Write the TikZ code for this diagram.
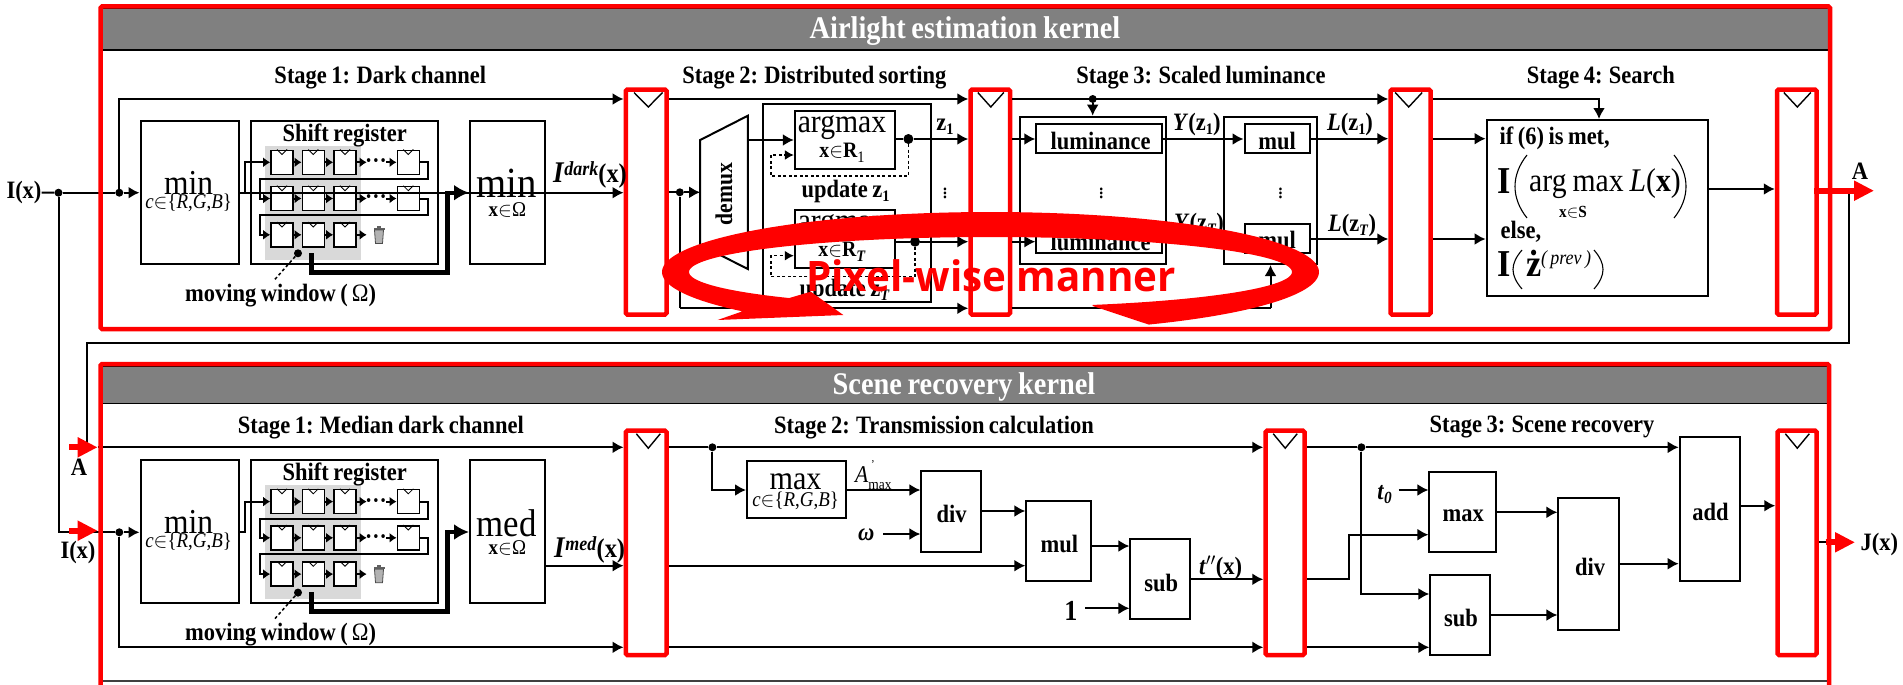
\documentclass[tikz,border=0pt]{standalone}
\usepackage{fontspec}
\setmainfont[FakeStretch=0.9,WordSpace=0.8]{Liberation Serif}
\newfontfamily\pixfont[FakeStretch=0.96]{Open Sans}
\usetikzlibrary{arrows.meta,calc}
\newcommand\fs[1]{\fontsize{#1}{#1}\selectfont}
\newcommand\lowt[2][-4pt]{\raisebox{#1}{\fs{16}#2}}
\newcommand\BOX[6][]{%
 \pgfmathsetmacro\bxw{#5-#3}\pgfmathsetmacro\bxh{#6-#4}%
 \pgfmathsetmacro\bxx{(#3+#5)/2}\pgfmathsetmacro\bxy{(#4+#6)/2}%
 \node[blockbox,#1,minimum width=\bxw pt,minimum height=\bxh pt] (#2) at (\bxx,\bxy) {};}
\newcommand\REG[7]{\BOX[regbox]{#1}{#2}{#3}{#4}{#5}%
 \draw[veeline] ({#6-#7},{#3+3}) -- (#6,{#3+17.5}) -- ({#6+#7},{#3+3});}
\newcommand\HW[3]{\draw[wire] (#1 |- 0,#3) -- (#2 |- 0,#3);}
\newcommand\CSET{\textit{c}$\in$\{\textit{R},\textit{G},\textit{B}\}}
\newcommand\SHIFTBLOCK[2]{%
\begin{scope}[shift={(0,#2)}]
 \BOX{#1a}{140.5}{120.7}{239.4}{264}
 \BOX{#1b}{250.6}{120.7}{438}{264}
 \BOX[grayarea]{#1g}{265}{146}{360.8}{260}
 \BOX{#1m}{470}{120.7}{544.7}{264}
 \node[lab] (#1ta) at (344.7,134) {Shift register};
 \node[reg,font=\fs{35}] (#1tb) at (188.6,182.7) {min};
 \node[reg,font=\fs{21}] (#1tc) at (188.6,203) {\CSET};
 \node[lab] (#1td) at (280.6,294) {moving window (\,\textmd{Ω})};
 \foreach \r/\ry in {1/162.3,2/198.5,3/234.8}{
  \foreach \c/\cx in {1/282,2/313.3,3/345}{
   \node[cell] (#1c\r\c) at (\cx,\ry) {};
   \draw[cellv] ($(#1c\r\c.north)+(-5,0)$) -- ($(#1c\r\c.north)+(0,5)$) -- ($(#1c\r\c.north)+(5,0)$);
  }
 }
 \foreach \r/\ry in {1/162.3,2/198.5}{
  \node[cell] (#1c\r4) at (408.3,\ry) {};
  \draw[cellv] ($(#1c\r4.north)+(-5,0)$) -- ($(#1c\r4.north)+(0,5)$) -- ($(#1c\r4.north)+(5,0)$);
  \coordinate (#1e\r) at (366.7,\ry);
  \coordinate (#1f\r) at (386,\ry);
  \node[lab,font=\fs{24}\bfseries] (#1dots\r) at (376,\ry) {···};
  \draw[smallwire] (#1c\r3.east) -- (#1e\r);
  \draw[smallwire] (#1f\r) -- (#1c\r4.west);
 }
 \foreach \r in {1,2,3}{
  \draw[smallwire] (#1c\r1.east) -- (#1c\r2.west);
  \draw[smallwire] (#1c\r2.east) -- (#1c\r3.west);
 }
 \coordinate (#1e3) at (366.7,234.8);
 \draw[smallwire] (#1c33.east) -- (#1e3);
 \draw[smallwire] (#1a.east |- 0,192.7) -- (245,192.7) -- (245,162.3) -- (#1c11.west);
 \draw[smallwire] (#1c14.east) -- (428.3,162.3) -- (428.3,179.3) -- (260,179.3) -- (260,198.5) -- (#1c21.west);
 \draw[smallwire] (#1c24.east) -- (428.3,198.5) -- (428.3,214.6) -- (260,214.6) -- (260,234.8) -- (#1c31.west);
 % trash can
 \fill[gray!75!black] (373.5,227.5) rectangle (384.5,229.5);
 \fill[gray!75!black] (377,225.5) rectangle (381,227.5);
 \draw[fill=gray!60,draw=black!70,line width=0.8pt] (374.5,230) -- (375.5,243.5) -- (382.5,243.5) -- (383.5,230) -- cycle;
 \node[jdot,minimum size=8pt] (#1wd) at (298,253.3) {};
 \coordinate (#1we) at (275,279.3);
 \draw[dashline] (#1wd) -- (#1we);
 \coordinate (#1t) at (311.3,253);
 \draw[thickwire] (#1t) -- (311.3,272.3) -- (447.3,272.3) -- (447.3,192.7) -- (#1m.west |- 0,192.7);
\end{scope}}
\begin{document}
\begin{tikzpicture}[x=1pt,y=-1pt,
 blockbox/.style={draw=black,line width=2pt,fill=white,inner sep=0pt},
 regbox/.style={draw=red,line width=4.5pt,rounded corners=1.5pt,fill=white},
 grayarea/.style={draw=none,fill=black!15},
 cell/.style={draw=black,line width=1.6pt,fill=white,inner sep=0pt,minimum width=22pt,minimum height=24pt},
 cellv/.style={draw=black,line width=0.8pt},
 veeline/.style={draw=black,line width=1.4pt},
 lab/.style={inner sep=0pt,yshift=-1.5pt,font=\fs{25}\bfseries},
 reg/.style={inner sep=0pt,font=\fs{25}},
 hdr/.style={inner sep=0pt,yshift=-2.5pt,text=white,font=\fs{31.5}\bfseries},
 header/.style={draw=black,line width=1.5pt,fill=black!50,inner sep=0pt},
 wire/.style={draw=black,line width=2pt,-{Latex[length=11pt,width=12pt]}},
 plainw/.style={draw=black,line width=2pt},
 smallwire/.style={draw=black,line width=2pt,-{Latex[length=7pt,width=10pt]}},
 thickwire/.style={draw=black,line width=4.4pt,-{Latex[length=15pt,width=16pt]}},
 dashline/.style={draw=black,line width=1.5pt,dash pattern=on 3pt off 2.5pt},
 dashwire/.style={draw=black,line width=1.5pt,dash pattern=on 3pt off 2.5pt,-{Latex[length=9pt,width=10pt]}},
 jdot/.style={circle,fill=black,inner sep=0pt,minimum size=8pt},
 frameline/.style={draw=red,line width=4.5pt,rounded corners=1.5pt},
 redarrow/.style={draw=red,line width=6pt,-{Triangle[length=20pt,width=19pt]}},
]
\useasboundingbox (0,0) rectangle (1903,685);

% ---------- headers
\BOX[header]{hda}{100.6}{8.5}{1830}{50}
\BOX[header]{hdb}{100.6}{366.5}{1829}{403.3}
\node[hdr] (hta) at (965,29) {Airlight estimation kernel};
\node[hdr] (htb) at (964,384) {Scene recovery kernel};
\node[lab] (sa1) at (380.3,76) {Stage 1: Dark channel};
\node[lab] (sa2) at (814.4,76) {Stage 2: Distributed sorting};
\node[lab] (sa3) at (1201,76) {Stage 3: Scaled luminance};
\node[lab] (sa4) at (1600.8,76) {Stage 4: Search};
\node[lab] (sb1) at (380.9,425.7) {Stage 1: Median dark channel};
\node[lab] (sb2) at (934,425.7) {Stage 2: Transmission calculation};
\node[lab] (sb3) at (1542,425.7) {Stage 3: Scene recovery};

% ---------- shift blocks
\SHIFTBLOCK{u}{0}
\SHIFTBLOCK{l}{339.3}
\node[reg,font=\fs{43}] (tmina) at (506.5,183.3) {min};
\node[reg,font=\fs{21}] (txa) at (507.4,210) {\textbf{x}$\in$Ω};
\node[reg,font=\fs{38.7}] (tmed) at (506.5,523.3) {med};
\node[reg,font=\fs{21}] (txb) at (507.4,547.7) {\textbf{x}$\in$Ω};

% ---------- pipeline registers, upper
\REG{ra}{625.8}{89.5}{666.5}{314.5}{648.3}{14.3}
\REG{rb}{970.5}{89.5}{1010}{314.5}{990.8}{13}
\REG{rc}{1390.5}{89.5}{1430.5}{314.5}{1408.7}{13.5}
\REG{rd}{1777}{89.5}{1816.5}{314.5}{1797.3}{13.5}
% pipeline registers, lower
\REG{rl}{625.8}{430.7}{666.5}{655}{648.3}{12}
\REG{rm}{1265.5}{430.7}{1304.5}{655}{1285.2}{12}
\REG{rn}{1777.5}{430.7}{1816.5}{655}{1797.3}{12}

% ---------- upper stage 2 and 3
\node[lab] (iox) at (24,191) {I(x)};
\node[jdot] (ja) at (58.5,192.7) {};
\node[jdot] (jb) at (119.3,192.7) {};
\node[jdot] (jc) at (679.8,192.3) {};
\BOX{sort}{763}{104.3}{931}{302.3}
\BOX{ama}{794.8}{111}{894.5}{169}
\BOX{amb}{794.8}{210}{894.5}{268.3}
\node[reg,font=\fs{33}] (tama) at (842,127.3) {argmax};
\node[lab,font=\fs{22}\bfseries] (tamb) at (842,151.7) {x\textmd{$\in$}R\lowt[-5pt]{\textmd{1}}};
\node[reg,font=\fs{33}] (tamc) at (842,226.5) {argmax};
\node[lab,font=\fs{22}\bfseries] (tamd) at (842,250) {x\textmd{$\in$}R\lowt[-5pt]{\textit{T}}};
\node[lab] (upa) at (845.5,190) {update z\lowt{1}};
\node[lab] (upb) at (844.6,289) {update z\lowt{\textit{T}}};
\node[lab] (zone) at (945,125) {z\lowt{1}};
\node[reg,font=\fs{24}] (vda) at (945,190) {$\vdots$};
\path[draw=black,line width=2pt,fill=white] (700.2,140) -- (747.9,115.7) -- (747.9,269) -- (700.2,245) -- cycle;
\coordinate (dmw) at (700.2,192.3);
\coordinate (dmu) at (747.9,140);
\coordinate (dml) at (747.9,232);
\node[lab,rotate=90,font=\fs{24}\bfseries] (dmt) at (724,192.7) {demux};
\node[jdot,minimum size=10pt] (jd) at (908.4,139) {};
\node[jdot,minimum size=10pt] (je) at (915,241.7) {};

\BOX{lumo}{1019.8}{116.7}{1165.5}{264}
\BOX{lua}{1036.3}{124.3}{1162}{153.3}
\BOX{lub}{1036.3}{225}{1162}{253.3}
\node[lab] (tla) at (1100.5,139) {luminance};
\node[lab] (tlb) at (1100.5,240) {luminance};
\node[reg,font=\fs{24}] (vdb) at (1101.4,190) {$\vdots$};
\BOX{mulo}{1224}{116.7}{1317}{264}
\BOX{mua}{1244.5}{124}{1309.8}{153.3}
\BOX{mub}{1244.5}{224}{1309.8}{253.3}
\node[lab] (tma) at (1277,139) {mul};
\node[lab] (tmb) at (1277,238.7) {mul};
\node[reg,font=\fs{24}] (vdc) at (1280.5,190) {$\vdots$};
\node[jdot] (jf) at (1092.7,99) {};
\node[lab] (tya) at (1196.8,123.3) {\textit{Y}(z\lowt{1})};
\node[lab] (tyb) at (1199,223) {\textit{Y}(z\lowt{\textit{T}})};
\node[lab] (tlza) at (1350,123.3) {\textit{L}(z\lowt{1})};
\node[lab] (tlzb) at (1352,224) {\textit{L}(z\lowt{\textit{T}})};

% search box
\BOX{srch}{1486.6}{120}{1707.9}{295.7}
\node[lab,anchor=west] (s1) at (1499.3,136.7) {if (6) is met,};
\node[lab,font=\fs{38}\bfseries] (s2) at (1504,180) {I};
\draw[line width=1.1pt] (1527,155) .. controls (1511,175) and (1511,198) .. (1527,218);
\draw[line width=1.1pt] (1674,155) .. controls (1690,175) and (1690,198) .. (1674,218);
\node[reg,font=\fs{33},anchor=west] (s3) at (1529,184) {arg max \textit{L}(\textbf{x})};
\node[lab,font=\fs{17}\bfseries] (s4) at (1573,211) {x\textmd{$\in$}S};
\node[lab,anchor=west] (s5) at (1500.5,230.7) {else,};
\node[lab,font=\fs{38}\bfseries] (s6) at (1504,263) {I};
\draw[line width=1.1pt] (1522,250) .. controls (1510,264) and (1510,275) .. (1522,289);
\draw[line width=1.1pt] (1594,250) .. controls (1606,264) and (1606,275) .. (1594,289);
\node[lab,font=\fs{38}\bfseries] (s7) at (1534,262) {ż};
\node[reg,font=\fs{20}\itshape] (s8) at (1566,260) {(\,prev\,)};

\node[lab,anchor=west] (tid) at (553,173) {\fs{30}\textit{I}\raisebox{7pt}{\fs{20}\textit{dark}}\fs{27}(x)};
\node[lab,anchor=west] (tim) at (554,548.3) {\fs{30}\textit{I}\raisebox{7pt}{\fs{20}\textit{med}}\fs{27}(x)};

% ---------- upper wires
\draw[plainw] (iox.east) -- (ja);
\draw[plainw] (ja) -- (jb);
\draw[wire] (jb) -- (ua.west |- jb);
\draw[wire] (jb) -- (119.3,99) -- (ra.west |- 0,99);
\HW{ua.east}{ra.west}{192.7}
\draw[plainw] (ra.east |- jc) -- (jc);
\draw[wire] (jc) -- (dmw);
\draw[plainw] (jc) -- (679.8,308.3);
\coordinate (jcb) at (679.8,308.3);
\draw[wire] (jcb) -- (rb.west |- jcb);
\draw[plainw] (rb.east |- jcb) -- (1270.5,308.3);
\draw[wire] (1270.5,308.3) -- (mulo.south -| 1270.5,0);
\HW{ra.east}{rb.west}{99}
\HW{rb.east}{rc.west}{99}
\draw[wire] (jf) -- (lumo.north -| jf);
\draw[wire] (dmu) -- (ama.west |- dmu);
\draw[wire] (dml) -- (amb.west |- dml);
\draw[plainw] (ama.east |- jd) -- (jd);
\draw[wire] (jd) -- (rb.west |- jd);
\draw[plainw] (amb.east |- je) -- (je);
\draw[wire] (je) -- (rb.west |- je);
\draw[dashwire] (jd) -- (908.4,176) -- (771,176) -- (771,155) -- (ama.west |- 0,155);
\draw[dashwire] (je) -- (915,276.7) -- (771,276.7) -- (771,255.7) -- (amb.west |- 0,255.7);
\HW{rb.east}{lua.west}{139}
\HW{rb.east}{lub.west}{241.7}
\HW{lua.east}{mua.west}{139}
\HW{lub.east}{mub.west}{241.7}
\HW{mua.east}{rc.west}{138.7}
\HW{mub.east}{rc.west}{239}
\HW{rc.east}{srch.west}{138.7}
\HW{rc.east}{srch.west}{239}
\draw[wire] (rc.east |- 0,99) -- (1599,99) -- (srch.north -| 1599,0);
\HW{srch.east}{rd.west}{189}

% ---------- feedback
\coordinate (fbs) at (1849.3,190.7);
\coordinate (fbe) at (86.7,447.3);
\draw[plainw] (fbs) -- (1849.3,343.3) -- (86.7,343.3) -- (fbe);
\coordinate (ibe) at (58.5,532.3);
\draw[plainw] (ja) -- (ibe) -- (75,532.3);

% ---------- lower stage 1
\node[jdot] (jl) at (119.3,532.3) {};
\draw[plainw] (75,532.3) -- (jl);
\draw[wire] (jl) -- (la.west |- jl);
\draw[wire] (jl) -- (119.3,647.3) -- (rl.west |- 0,647.3);
\draw[wire] (97.6,447.3) -- (rl.west |- 0,447.3);
\HW{lm.east}{rl.west}{565.7}

% ---------- lower stage 2
\BOX{mxa}{747}{461}{846.4}{517.7}
\node[reg,font=\fs{33.5}] (tmxa) at (795.6,481.7) {max};
\node[reg,font=\fs{21}] (tmxb) at (795.6,501) {\CSET};
\node[reg,font=\fs{24},anchor=west] (tamx) at (855,475) {\textit{A}\raisebox{-7pt}{\fs{15}max}\llap{\raisebox{14pt}{\fs{12}'\hspace{17pt}}}};
\BOX{dva}{921.4}{471}{981.2}{551.7}
\node[lab] (tdva) at (951.7,512.7) {div};
\node[lab,font=\fs{25}\bfseries\itshape] (tom) at (866.3,533) {ω};
\coordinate (omw) at (883.2,534);
\BOX{mla}{1026.3}{501.3}{1090.5}{581}
\node[lab] (tmla) at (1059.3,542.7) {mul};
\BOX{sba}{1130.4}{539.3}{1190.3}{619.3}
\node[lab] (tsba) at (1161.2,581) {sub};
\node[lab,font=\fs{29}\bfseries] (tone) at (1071,609.3) {1};
\coordinate (onw) at (1085.3,608.3);
\node[lab] (ttp) at (1220.6,566.7) {\textit{t}$''$(x)};
\node[jdot] (jm) at (712.4,447.3) {};
\draw[plainw] (rl.east |- jm) -- (jm);
\draw[wire] (jm) -- (rm.west |- jm);
\draw[wire] (jm) -- (712.4,490) -- (mxa.west |- 0,490);
\HW{mxa.east}{dva.west}{490}
\draw[wire] (omw) -- (dva.west |- omw);
\HW{dva.east}{mla.west}{511}
\HW{rl.east}{mla.west}{565.7}
\HW{mla.east}{sba.west}{546}
\draw[wire] (onw) -- (sba.west |- onw);
\HW{sba.east}{rm.west}{579.3}
\HW{rl.east}{rm.west}{647.3}

% ---------- lower stage 3
\BOX{mxb}{1429.4}{472.3}{1495.8}{552.3}
\node[lab] (tmxc) at (1463.3,514) {max};
\BOX{sbb}{1430.3}{575}{1490.3}{655}
\node[lab] (tsbb) at (1461,616.7) {sub};
\BOX{dvb}{1558.4}{497.7}{1618.9}{630}
\node[lab] (tdvb) at (1590,565) {div};
\BOX{ada}{1679.7}{437.3}{1739.8}{581}
\node[lab] (tada) at (1710.6,510.7) {add};
\node[lab] (ttz) at (1384.6,493.3) {\textit{t}\raisebox{-4pt}{\fs{17}\textit{0}}};
\coordinate (tzw) at (1398.6,490);
\node[jdot] (jn) at (1361.4,447.3) {};
\draw[plainw] (rm.east |- jn) -- (jn);
\draw[wire] (jn) -- (ada.west |- jn);
\draw[wire] (jn) -- (1361.4,594) -- (sbb.west |- 0,594);
\draw[wire] (tzw) -- (mxb.west |- tzw);
\draw[wire] (rm.east |- 0,579.3) -- (1349,579.3) -- (1349,534.7) -- (mxb.west |- 0,534.7);
\HW{rm.east}{sbb.west}{647.3}
\HW{mxb.east}{dvb.west}{512.3}
\HW{sbb.east}{dvb.west}{615}
\HW{dvb.east}{ada.west}{563.7}
\HW{ada.east}{rn.west}{505.7}
\draw[plainw] (rn.east |- 0,542.3) -- (1826,542.3);

% ---------- frames
\draw[frameline] (100.6,6.5) rectangle (1830,329);
\draw[frameline] (100.6,685) -- (100.6,364) -- (1829,364) -- (1829,685);
\draw[draw=black!75,line width=1.5pt] (102.6,681) -- (1827,681);

% ---------- red arrows and port labels
\coordinate (rao) at (1814,190.7);
\coordinate (rat) at (1874,190.7);
\draw[redarrow] (rao) -- (rat);
\node[lab] (ta) at (1860,170) {A};
\coordinate (rbo) at (69.4,447.3);
\coordinate (rbt) at (97.6,447.3);
\draw[redarrow] (rbo) -- (rbt);
\node[lab] (tb) at (79,466) {A};
\coordinate (rco) at (69.4,530.7);
\coordinate (rct) at (97.6,530.7);
\draw[redarrow] (rco) -- (rct);
\node[lab] (tc) at (78,550.7) {I(x)};
\coordinate (rdo) at (1825.6,542.3);
\coordinate (rdt) at (1855,542.3);
\draw[redarrow] (rdo) -- (rdt);
\node[lab] (td) at (1879.3,543) {J(x)};

% ---------- pixel-wise loop
\fill[red] plot[domain=139.3:421.2,samples=160,variable=\t] ({990.5+328.5*cos(\t)},{272+60*sin(\t)})
  -- (1092.7,306)
  -- plot[domain=430.2:131.9,samples=160,variable=\t] ({990.5+301.5*cos(\t)},{272+35*sin(\t)})
  -- (810.8,291.7) -- (843.3,315) -- (717.6,320) -- (741.4,311.7) -- cycle;
\node[inner sep=0pt,text=red,font=\pixfont\fs{42}\bfseries] (pwm) at (991,276) {Pixel-wise manner};
\end{tikzpicture}
\end{document}
